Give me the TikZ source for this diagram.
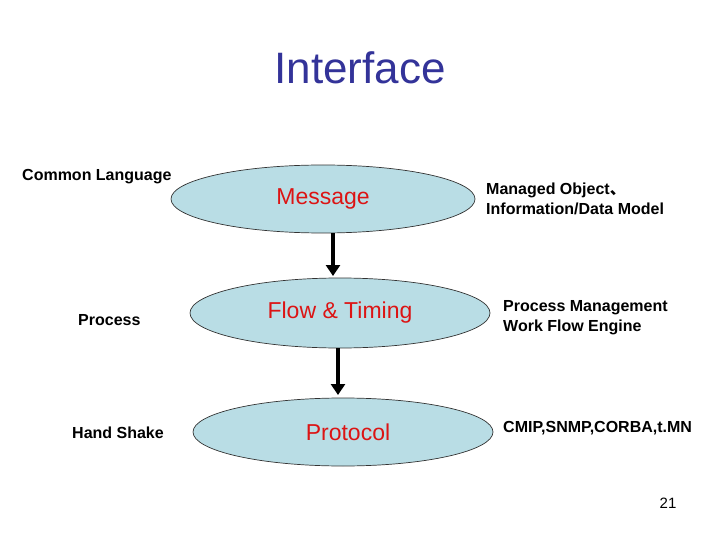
\documentclass[tikz,border=0pt]{standalone}
\usepackage{fontspec}
\setmainfont{Liberation Sans}
\newfontfamily\cjk{Noto Sans CJK SC}
\usetikzlibrary{arrows.meta}
\definecolor{titleblue}{RGB}{51,51,153}
\definecolor{ellfill}{RGB}{185,221,229}
\definecolor{ellred}{RGB}{220,20,20}
\begin{document}
\begin{tikzpicture}[x=1pt,y=-1pt,
  oval/.style={draw=black!80,fill=ellfill,line width=0.7pt},
  inner/.style={text=ellred,font=\fontsize{23}{26}\selectfont},
  side/.style={font=\bfseries\fontsize{16}{20}\selectfont,align=left},
  flow/.style={line width=4pt,-{Triangle[length=11pt,width=14pt]}}]
\useasboundingbox (0,0) rectangle (720,540);
\node[text=titleblue,font=\fontsize{44}{48}\selectfont] (title) at (360,68) {Interface};
\draw[oval] (323,199) ellipse (152 and 34);
\draw[oval] (340,313) ellipse (150 and 35);
\draw[oval] (343,432) ellipse (150 and 34);
\node[inner] (msg) at (323,199) {Message};
\node[inner] (flw) at (340,313) {Flow \& Timing};
\node[inner] (prt) at (348,432) {Protocol};
\coordinate (a1) at (333,233);
\coordinate (a2) at (333,276);
\coordinate (b1) at (338,348);
\coordinate (b2) at (338,395);
\draw[flow] (a1) -- (a2);
\draw[flow] (b1) -- (b2);
\node[side,anchor=west,inner sep=0] (cl) at (22,177) {Common Language};
\node[side,anchor=west,inner sep=0] (pr) at (78,320) {Process};
\node[side,anchor=west,inner sep=0] (hs) at (72,433) {Hand Shake};
\node[side,anchor=west,inner sep=0] (mo) at (486,199) {Managed Object{\cjk 、}\\Information/Data Model};
\node[side,anchor=west,inner sep=0] (pm) at (503,318) {Process Management\\Work Flow Engine};
\node[side,anchor=west,inner sep=0] (cm) at (503,428) {CMIP,SNMP,CORBA,t.MN};
\node[font=\fontsize{15}{17}\selectfont] (pg) at (668,503) {21};
\end{tikzpicture}
\end{document}
